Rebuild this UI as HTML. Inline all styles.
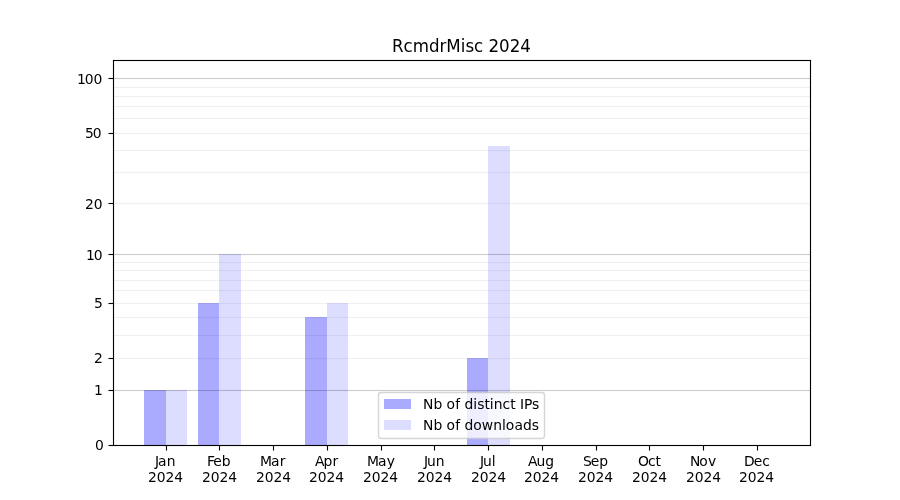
<!DOCTYPE html>
<html lang="en">
<head>
<meta charset="utf-8">
<title>RcmdrMisc 2024</title>
<style>
html,body{margin:0;padding:0;background:#fff;}
body{width:900px;height:500px;overflow:hidden;}
svg{display:block;position:absolute;left:0;top:0;}
text{font-family:"DejaVu Sans","Liberation Sans",sans-serif;font-size:13.8889px;fill:#000;white-space:pre;}
text.title{font-size:16.6667px;}
.px{shape-rendering:crispEdges;}
</style>
</head>
<body>
<svg width="900" height="500" viewBox="0 0 900 500">
<rect x="0" y="0" width="900" height="500" fill="#ffffff"/>
<!-- bars -->
<g class="px bars">
<rect x="144" y="390" width="22" height="55" fill="#aaaaff"/>
<rect x="166" y="390" width="21" height="55" fill="#ddddff"/>
<rect x="198" y="303" width="21" height="142" fill="#aaaaff"/>
<rect x="219" y="254" width="22" height="191" fill="#ddddff"/>
<rect x="305" y="317" width="22" height="128" fill="#aaaaff"/>
<rect x="327" y="303" width="21" height="142" fill="#ddddff"/>
<rect x="467" y="358" width="21" height="87" fill="#aaaaff"/>
<rect x="488" y="146" width="22" height="299" fill="#ddddff"/>
</g>
<!-- horizontal grid lines (drawn above bars) -->
<g class="px grid" fill="#000">
<rect x="113" y="78" width="698" height="1" fill-opacity="0.2"/><rect x="113" y="77" width="698" height="1" fill-opacity="0.0118"/><rect x="113" y="79" width="698" height="1" fill-opacity="0.0118"/>
<rect x="113" y="254" width="698" height="1" fill-opacity="0.2"/><rect x="113" y="253" width="698" height="1" fill-opacity="0.0118"/><rect x="113" y="255" width="698" height="1" fill-opacity="0.0118"/>
<rect x="113" y="390" width="698" height="1" fill-opacity="0.2"/><rect x="113" y="389" width="698" height="1" fill-opacity="0.0118"/><rect x="113" y="391" width="698" height="1" fill-opacity="0.0118"/>
<rect x="113" y="87" width="698" height="1" fill-opacity="0.06"/><rect x="113" y="86" width="698" height="1" fill-opacity="0.0039"/><rect x="113" y="88" width="698" height="1" fill-opacity="0.0039"/>
<rect x="113" y="96" width="698" height="1" fill-opacity="0.06"/><rect x="113" y="95" width="698" height="1" fill-opacity="0.0039"/><rect x="113" y="97" width="698" height="1" fill-opacity="0.0039"/>
<rect x="113" y="106" width="698" height="1" fill-opacity="0.06"/><rect x="113" y="105" width="698" height="1" fill-opacity="0.0039"/><rect x="113" y="107" width="698" height="1" fill-opacity="0.0039"/>
<rect x="113" y="118" width="698" height="1" fill-opacity="0.06"/><rect x="113" y="117" width="698" height="1" fill-opacity="0.0039"/><rect x="113" y="119" width="698" height="1" fill-opacity="0.0039"/>
<rect x="113" y="133" width="698" height="1" fill-opacity="0.06"/><rect x="113" y="132" width="698" height="1" fill-opacity="0.0039"/><rect x="113" y="134" width="698" height="1" fill-opacity="0.0039"/>
<rect x="113" y="150" width="698" height="1" fill-opacity="0.06"/><rect x="113" y="149" width="698" height="1" fill-opacity="0.0039"/><rect x="113" y="151" width="698" height="1" fill-opacity="0.0039"/>
<rect x="113" y="172" width="698" height="1" fill-opacity="0.06"/><rect x="113" y="171" width="698" height="1" fill-opacity="0.0039"/><rect x="113" y="173" width="698" height="1" fill-opacity="0.0039"/>
<rect x="113" y="203" width="698" height="1" fill-opacity="0.06"/><rect x="113" y="202" width="698" height="1" fill-opacity="0.0039"/><rect x="113" y="204" width="698" height="1" fill-opacity="0.0039"/>
<rect x="113" y="262" width="698" height="1" fill-opacity="0.06"/><rect x="113" y="261" width="698" height="1" fill-opacity="0.0039"/><rect x="113" y="263" width="698" height="1" fill-opacity="0.0039"/>
<rect x="113" y="270" width="698" height="1" fill-opacity="0.06"/><rect x="113" y="269" width="698" height="1" fill-opacity="0.0039"/><rect x="113" y="271" width="698" height="1" fill-opacity="0.0039"/>
<rect x="113" y="280" width="698" height="1" fill-opacity="0.06"/><rect x="113" y="279" width="698" height="1" fill-opacity="0.0039"/><rect x="113" y="281" width="698" height="1" fill-opacity="0.0039"/>
<rect x="113" y="290" width="698" height="1" fill-opacity="0.06"/><rect x="113" y="289" width="698" height="1" fill-opacity="0.0039"/><rect x="113" y="291" width="698" height="1" fill-opacity="0.0039"/>
<rect x="113" y="303" width="698" height="1" fill-opacity="0.06"/><rect x="113" y="302" width="698" height="1" fill-opacity="0.0039"/><rect x="113" y="304" width="698" height="1" fill-opacity="0.0039"/>
<rect x="113" y="317" width="698" height="1" fill-opacity="0.06"/><rect x="113" y="316" width="698" height="1" fill-opacity="0.0039"/><rect x="113" y="318" width="698" height="1" fill-opacity="0.0039"/>
<rect x="113" y="335" width="698" height="1" fill-opacity="0.06"/><rect x="113" y="334" width="698" height="1" fill-opacity="0.0039"/><rect x="113" y="336" width="698" height="1" fill-opacity="0.0039"/>
<rect x="113" y="358" width="698" height="1" fill-opacity="0.06"/><rect x="113" y="357" width="698" height="1" fill-opacity="0.0039"/><rect x="113" y="359" width="698" height="1" fill-opacity="0.0039"/>
</g>
<!-- x axis -->
<g class="xaxis">
<g class="px tick" fill="#000"><rect x="166" y="446" width="1" height="4"/><rect x="166" y="450" width="1" height="1" fill-opacity="0.5"/><rect x="165" y="446" width="1" height="4" fill-opacity="0.055"/><rect x="167" y="446" width="1" height="4" fill-opacity="0.055"/><rect x="165" y="450" width="1" height="1" fill-opacity="0.0275"/><rect x="167" y="450" width="1" height="1" fill-opacity="0.0275"/></g>
<text transform="translate(0,466.276) scale(1,1.02)" x="154.9 158.03 166.74" y="0">Jan</text>
<text transform="translate(0,481.828) scale(1,1.04)" x="148.12 156.66 165.44 174.22" y="0">2024</text>
<g class="px tick" fill="#000"><rect x="219" y="446" width="1" height="4"/><rect x="219" y="450" width="1" height="1" fill-opacity="0.5"/><rect x="218" y="446" width="1" height="4" fill-opacity="0.055"/><rect x="220" y="446" width="1" height="4" fill-opacity="0.055"/><rect x="218" y="450" width="1" height="1" fill-opacity="0.0275"/><rect x="220" y="450" width="1" height="1" fill-opacity="0.0275"/></g>
<text transform="translate(0,466.276) scale(1,1.02)" x="206.9 213.29 221.75" y="0">Feb</text>
<text transform="translate(0,481.828) scale(1,1.04)" x="201.99 210.77 219.55 228.34" y="0">2024</text>
<g class="px tick" fill="#000"><rect x="273" y="446" width="1" height="4"/><rect x="273" y="450" width="1" height="1" fill-opacity="0.5"/><rect x="272" y="446" width="1" height="4" fill-opacity="0.055"/><rect x="274" y="446" width="1" height="4" fill-opacity="0.055"/><rect x="272" y="450" width="1" height="1" fill-opacity="0.0275"/><rect x="274" y="450" width="1" height="1" fill-opacity="0.0275"/></g>
<text transform="translate(0,466.276) scale(1,1.02)" x="259.89 270.93 279.81" y="0">Mar</text>
<text transform="translate(0,481.828) scale(1,1.04)" x="255.97 264.76 273.54 282.32" y="0">2024</text>
<g class="px tick" fill="#000"><rect x="327" y="446" width="1" height="4"/><rect x="327" y="450" width="1" height="1" fill-opacity="0.5"/><rect x="326" y="446" width="1" height="4" fill-opacity="0.055"/><rect x="328" y="446" width="1" height="4" fill-opacity="0.055"/><rect x="326" y="450" width="1" height="1" fill-opacity="0.0275"/><rect x="328" y="450" width="1" height="1" fill-opacity="0.0275"/></g>
<text transform="translate(0,466.276) scale(1,1.06)" x="315.02 323.56 332.43" y="0">Apr</text>
<text transform="translate(0,481.828) scale(1,1.04)" x="308.96 317.74 326.53 335.31" y="0">2024</text>
<g class="px tick" fill="#000"><rect x="381" y="446" width="1" height="4"/><rect x="381" y="450" width="1" height="1" fill-opacity="0.5"/><rect x="380" y="446" width="1" height="4" fill-opacity="0.055"/><rect x="382" y="446" width="1" height="4" fill-opacity="0.055"/><rect x="380" y="450" width="1" height="1" fill-opacity="0.0275"/><rect x="382" y="450" width="1" height="1" fill-opacity="0.0275"/></g>
<text transform="translate(0,466.276) scale(1,1.02)" x="366.97 377.94 386.77" y="0">May</text>
<text transform="translate(0,481.828) scale(1,1.04)" x="362.94 371.73 380.51 389.3" y="0">2024</text>
<g class="px tick" fill="#000"><rect x="434" y="446" width="1" height="4"/><rect x="434" y="450" width="1" height="1" fill-opacity="0.5"/><rect x="433" y="446" width="1" height="4" fill-opacity="0.055"/><rect x="435" y="446" width="1" height="4" fill-opacity="0.055"/><rect x="433" y="450" width="1" height="1" fill-opacity="0.0275"/><rect x="435" y="450" width="1" height="1" fill-opacity="0.0275"/></g>
<text transform="translate(0,466.276) scale(1,1.03)" x="423.89 426.94 435.64" y="0">Jun</text>
<text transform="translate(0,481.828) scale(1,1.04)" x="416.93 425.72 434.5 443.28" y="0">2024</text>
<g class="px tick" fill="#000"><rect x="488" y="446" width="1" height="4"/><rect x="488" y="450" width="1" height="1" fill-opacity="0.5"/><rect x="487" y="446" width="1" height="4" fill-opacity="0.055"/><rect x="489" y="446" width="1" height="4" fill-opacity="0.055"/><rect x="487" y="450" width="1" height="1" fill-opacity="0.0275"/><rect x="489" y="450" width="1" height="1" fill-opacity="0.0275"/></g>
<text transform="translate(0,466.276) scale(1,1.03)" x="479.91 482.97 491.73" y="0">Jul</text>
<text transform="translate(0,481.828) scale(1,1.04)" x="470.92 479.7 488.49 497.27" y="0">2024</text>
<g class="px tick" fill="#000"><rect x="542" y="446" width="1" height="4"/><rect x="542" y="450" width="1" height="1" fill-opacity="0.5"/><rect x="541" y="446" width="1" height="4" fill-opacity="0.055"/><rect x="543" y="446" width="1" height="4" fill-opacity="0.055"/><rect x="541" y="450" width="1" height="1" fill-opacity="0.0275"/><rect x="543" y="450" width="1" height="1" fill-opacity="0.0275"/></g>
<text transform="translate(0,466.276) scale(1,1.01)" x="527.93 536.58 545.28" y="0">Aug</text>
<text transform="translate(0,481.828) scale(1,1.04)" x="523.9 532.69 541.47 550.26" y="0">2024</text>
<g class="px tick" fill="#000"><rect x="596" y="446" width="1" height="4"/><rect x="596" y="450" width="1" height="1" fill-opacity="0.5"/><rect x="595" y="446" width="1" height="4" fill-opacity="0.055"/><rect x="597" y="446" width="1" height="4" fill-opacity="0.055"/><rect x="595" y="450" width="1" height="1" fill-opacity="0.0275"/><rect x="597" y="450" width="1" height="1" fill-opacity="0.0275"/></g>
<text transform="translate(0,466.276) scale(1,1.01)" x="582.9 590.86 599.31" y="0">Sep</text>
<text transform="translate(0,481.828) scale(1,1.04)" x="577.89 586.67 595.46 604.24" y="0">2024</text>
<g class="px tick" fill="#000"><rect x="649" y="446" width="1" height="4"/><rect x="649" y="450" width="1" height="1" fill-opacity="0.5"/><rect x="648" y="446" width="1" height="4" fill-opacity="0.055"/><rect x="650" y="446" width="1" height="4" fill-opacity="0.055"/><rect x="648" y="450" width="1" height="1" fill-opacity="0.0275"/><rect x="650" y="450" width="1" height="1" fill-opacity="0.0275"/></g>
<text transform="translate(0,466.276) scale(1,1.01)" x="637.89 648 655.59" y="0">Oct</text>
<text transform="translate(0,481.828) scale(1,1.04)" x="631.88 640.66 649.45 658.23" y="0">2024</text>
<g class="px tick" fill="#000"><rect x="703" y="446" width="1" height="4"/><rect x="703" y="450" width="1" height="1" fill-opacity="0.5"/><rect x="702" y="446" width="1" height="4" fill-opacity="0.055"/><rect x="704" y="446" width="1" height="4" fill-opacity="0.055"/><rect x="702" y="450" width="1" height="1" fill-opacity="0.0275"/><rect x="704" y="450" width="1" height="1" fill-opacity="0.0275"/></g>
<text transform="translate(0,466.276) scale(1,1.07)" x="689.92 699.33 707.89" y="0">Nov</text>
<text transform="translate(0,481.828) scale(1,1.04)" x="685.99 694.77 703.56 712.34" y="0">2024</text>
<g class="px tick" fill="#000"><rect x="757" y="446" width="1" height="4"/><rect x="757" y="450" width="1" height="1" fill-opacity="0.5"/><rect x="756" y="446" width="1" height="4" fill-opacity="0.055"/><rect x="758" y="446" width="1" height="4" fill-opacity="0.055"/><rect x="756" y="450" width="1" height="1" fill-opacity="0.0275"/><rect x="758" y="450" width="1" height="1" fill-opacity="0.0275"/></g>
<text transform="translate(0,466.276) scale(1,1.01)" x="744.12 753.8 762.34" y="0">Dec</text>
<text transform="translate(0,481.828) scale(1,1.04)" x="738.98 747.76 756.54 765.33" y="0">2024</text>
</g>
<!-- y axis -->
<g class="yaxis">
<g class="px tick" fill="#000"><rect x="109" y="445" width="4" height="1"/><rect x="108" y="445" width="1" height="1" fill-opacity="0.5"/><rect x="109" y="444" width="4" height="1" fill-opacity="0.055"/><rect x="109" y="446" width="4" height="1" fill-opacity="0.055"/><rect x="108" y="444" width="1" height="1" fill-opacity="0.0275"/><rect x="108" y="446" width="1" height="1" fill-opacity="0.0275"/></g>
<text transform="translate(0,450.277) scale(1,1.04)" x="94.98" y="0">0</text>
<g class="px tick" fill="#000"><rect x="109" y="390" width="4" height="1"/><rect x="108" y="390" width="1" height="1" fill-opacity="0.5"/><rect x="109" y="389" width="4" height="1" fill-opacity="0.055"/><rect x="109" y="391" width="4" height="1" fill-opacity="0.055"/><rect x="108" y="389" width="1" height="1" fill-opacity="0.0275"/><rect x="108" y="391" width="1" height="1" fill-opacity="0.0275"/></g>
<text transform="translate(0,395.197) scale(1,1.07)" x="93.9" y="0">1</text>
<g class="px tick" fill="#000"><rect x="109" y="358" width="4" height="1"/><rect x="108" y="358" width="1" height="1" fill-opacity="0.5"/><rect x="109" y="357" width="4" height="1" fill-opacity="0.055"/><rect x="109" y="359" width="4" height="1" fill-opacity="0.055"/><rect x="108" y="357" width="1" height="1" fill-opacity="0.0275"/><rect x="108" y="359" width="1" height="1" fill-opacity="0.0275"/></g>
<text transform="translate(0,362.977) scale(1,1.02)" x="93.98" y="0">2</text>
<g class="px tick" fill="#000"><rect x="109" y="303" width="4" height="1"/><rect x="108" y="303" width="1" height="1" fill-opacity="0.5"/><rect x="109" y="302" width="4" height="1" fill-opacity="0.055"/><rect x="109" y="304" width="4" height="1" fill-opacity="0.055"/><rect x="108" y="302" width="1" height="1" fill-opacity="0.0275"/><rect x="108" y="304" width="1" height="1" fill-opacity="0.0275"/></g>
<text transform="translate(0,307.897) scale(1,1.03)" x="93.94" y="0">5</text>
<g class="px tick" fill="#000"><rect x="109" y="254" width="4" height="1"/><rect x="108" y="254" width="1" height="1" fill-opacity="0.5"/><rect x="109" y="253" width="4" height="1" fill-opacity="0.055"/><rect x="109" y="255" width="4" height="1" fill-opacity="0.055"/><rect x="108" y="253" width="1" height="1" fill-opacity="0.0275"/><rect x="108" y="255" width="1" height="1" fill-opacity="0.0275"/></g>
<text transform="translate(0,259.731) scale(1,1.05)" x="85.95 93.85" y="0">10</text>
<g class="px tick" fill="#000"><rect x="109" y="203" width="4" height="1"/><rect x="108" y="203" width="1" height="1" fill-opacity="0.5"/><rect x="109" y="202" width="4" height="1" fill-opacity="0.055"/><rect x="109" y="204" width="4" height="1" fill-opacity="0.055"/><rect x="108" y="202" width="1" height="1" fill-opacity="0.0275"/><rect x="108" y="204" width="1" height="1" fill-opacity="0.0275"/></g>
<text transform="translate(0,209.347) scale(1,1.04)" x="84.95 93.73" y="0">20</text>
<g class="px tick" fill="#000"><rect x="109" y="133" width="4" height="1"/><rect x="108" y="133" width="1" height="1" fill-opacity="0.5"/><rect x="109" y="132" width="4" height="1" fill-opacity="0.055"/><rect x="109" y="134" width="4" height="1" fill-opacity="0.055"/><rect x="108" y="132" width="1" height="1" fill-opacity="0.0275"/><rect x="108" y="134" width="1" height="1" fill-opacity="0.0275"/></g>
<text transform="translate(0,137.839) scale(1,1.04)" x="84.89 92.82" y="0">50</text>
<g class="px tick" fill="#000"><rect x="109" y="78" width="4" height="1"/><rect x="108" y="78" width="1" height="1" fill-opacity="0.5"/><rect x="109" y="77" width="4" height="1" fill-opacity="0.055"/><rect x="109" y="79" width="4" height="1" fill-opacity="0.055"/><rect x="108" y="77" width="1" height="1" fill-opacity="0.0275"/><rect x="108" y="79" width="1" height="1" fill-opacity="0.0275"/></g>
<text transform="translate(0,83.542) scale(1,1.05)" x="76.92 84.73 93.56" y="0">100</text>
</g>
<!-- axes frame -->
<g class="px spines" fill="#000">
<rect x="112" y="60" width="1" height="386" fill-opacity="0.055"/><rect x="114" y="61" width="1" height="384" fill-opacity="0.055"/><rect x="809" y="61" width="1" height="384" fill-opacity="0.055"/><rect x="811" y="60" width="1" height="386" fill-opacity="0.055"/>
<rect x="113" y="59" width="698" height="1" fill-opacity="0.055"/><rect x="115" y="61" width="694" height="1" fill-opacity="0.055"/><rect x="115" y="444" width="694" height="1" fill-opacity="0.055"/><rect x="113" y="446" width="698" height="1" fill-opacity="0.055"/>
<rect x="113" y="59" width="1" height="1" fill-opacity="0.055"/><rect x="112" y="60" width="1" height="1" fill-opacity="0.055"/><rect x="114" y="61" width="1" height="1" fill-opacity="0.055"/><rect x="810" y="59" width="1" height="1" fill-opacity="0.055"/><rect x="811" y="60" width="1" height="1" fill-opacity="0.055"/><rect x="809" y="61" width="1" height="1" fill-opacity="0.055"/><rect x="809" y="444" width="1" height="1" fill-opacity="0.055"/><rect x="811" y="445" width="1" height="1" fill-opacity="0.055"/><rect x="810" y="446" width="1" height="1" fill-opacity="0.055"/><rect x="114" y="444" width="1" height="1" fill-opacity="0.055"/><rect x="113" y="446" width="1" height="1" fill-opacity="0.055"/>
<rect x="113" y="60" width="1" height="386"/><rect x="810" y="60" width="1" height="386"/><rect x="113" y="60" width="698" height="1"/><rect x="113" y="445" width="698" height="1"/>
</g>
<!-- title -->
<text class="title" transform="translate(0,51.667) scale(1,1.04)" x="391.89 403.46 412.88 429.12 439.44 446.28 460.66 465.54 473.97 483.13 488.43 499.04 509.64 520.24" y="0">RcmdrMisc 2024</text>
<!-- legend -->
<g class="legend">
<rect x="378.5" y="392.5" width="166" height="46" rx="2.78" ry="2.78" fill="#ffffff" stroke="#cccccc" stroke-width="1.3889" opacity="0.8"/>
<rect class="px" x="384" y="399" width="27" height="10" fill="#aaaaff"/>
<text transform="translate(0,409.225) scale(1,1.01)" x="423.12 433.49 442.3 446.46 455.19 460.09 464.49 473.3 477.15 484.63 489.82 493.68 502.47 510.35 515.54 519.95 524.05 531.91" y="0">Nb of distinct IPs</text>
<rect class="px" x="384" y="420" width="27" height="10" fill="#ddddff"/>
<text transform="translate(0,429.612) scale(1,1.05)" x="423.12 433.49 442.3 446.46 455.2 460.09 464.5 473.3 481.8 493.15 501.94 505.79 514.53 523.04 531.84" y="0">Nb of downloads</text>
</g>
</svg>
</body>
</html>
